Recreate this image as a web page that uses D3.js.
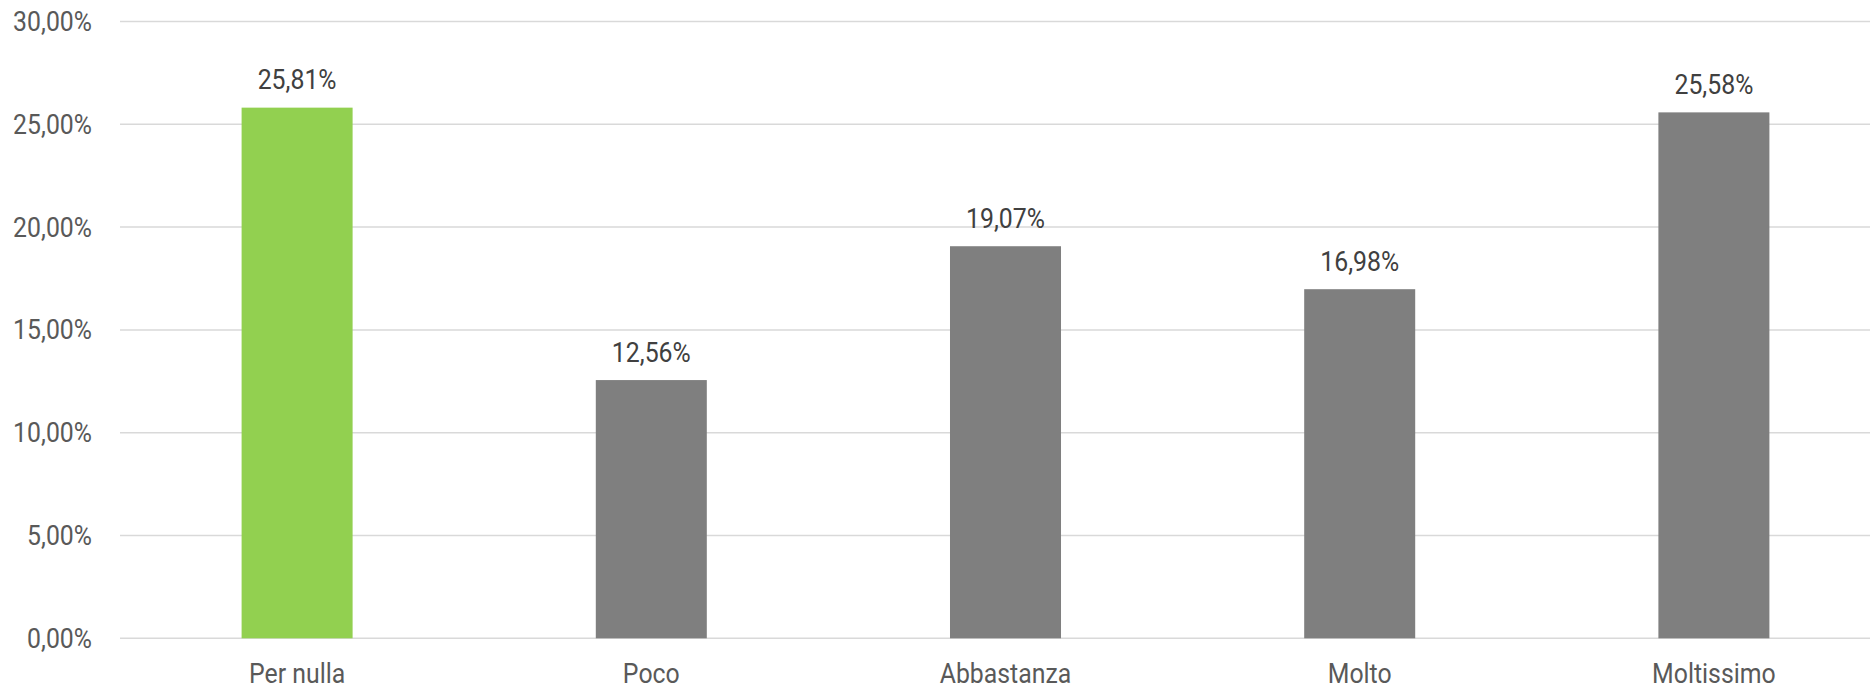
<!DOCTYPE html>
<html><head><meta charset="utf-8">
<script src="https://cdn.jsdelivr.net/npm/d3@7"></script>
<style>
html,body{margin:0;padding:0;background:#fff;}
text{font-family:Roboto,"Liberation Sans",sans-serif;}
</style></head>
<body>
<script>
const categories = ["Per nulla","Poco","Abbastanza","Molto","Moltissimo"];
const values = [25.81,12.56,19.07,16.98,25.58];
const labels = ["25,81%","12,56%","19,07%","16,98%","25,58%"];
const tickValues = [0,5,10,15,20,25,30];
const tickLabels = ["0,00%","5,00%","10,00%","15,00%","20,00%","25,00%","30,00%"];
const barColors = ["#92D050","#7F7F7F","#7F7F7F","#7F7F7F","#7F7F7F"];

(function () {
const W = 1870, H = 689;
const mLeft = 120, mRight = 1891, mTop = 21.5, mBottom = 638.3;
const sx = 0.92;

const svg = d3.select("body").append("svg").attr("width", W).attr("height", H);

const x = d3.scaleBand().domain(categories).range([mLeft, mRight]).paddingInner(0.6866).paddingOuter(0.3433);
const y = d3.scaleLinear().domain([0, 30]).range([mBottom, mTop]);

// gridlines
svg.append("g").selectAll("line").data(tickValues).join("line")
  .attr("x1", mLeft).attr("x2", mRight)
  .attr("y1", d => y(d)).attr("y2", d => y(d))
  .attr("stroke", "#D9D9D9").attr("stroke-width", 1.5);

// y tick labels
svg.append("g").selectAll("text").data(tickValues).join("text")
  .attr("transform", d => `translate(92,${y(d)}) scale(${sx},1)`)
  .attr("text-anchor", "end").attr("dy", "0.35em")
  .attr("font-size", 27).attr("fill", "#595959")
  .text((d, i) => tickLabels[i]);

// bars
svg.append("g").selectAll("rect").data(values).join("rect")
  .attr("x", (d, i) => x(categories[i]))
  .attr("width", x.bandwidth())
  .attr("y", d => y(d))
  .attr("height", d => y(0) - y(d))
  .attr("fill", (d, i) => barColors[i]);

// data labels
svg.append("g").selectAll("text").data(values).join("text")
  .attr("transform", (d, i) => `translate(${x(categories[i]) + x.bandwidth() / 2},${y(d) - 18.4}) scale(${sx},1)`)
  .attr("text-anchor", "middle")
  .attr("font-size", 27).attr("fill", "#404040")
  .text((d, i) => labels[i]);

// category labels
svg.append("g").selectAll("text").data(categories).join("text")
  .attr("transform", d => `translate(${x(d) + x.bandwidth() / 2},683) scale(${sx},1)`)
  .attr("text-anchor", "middle")
  .attr("font-size", 27).attr("fill", "#595959")
  .text(d => d);
})();
</script>
</body></html>
